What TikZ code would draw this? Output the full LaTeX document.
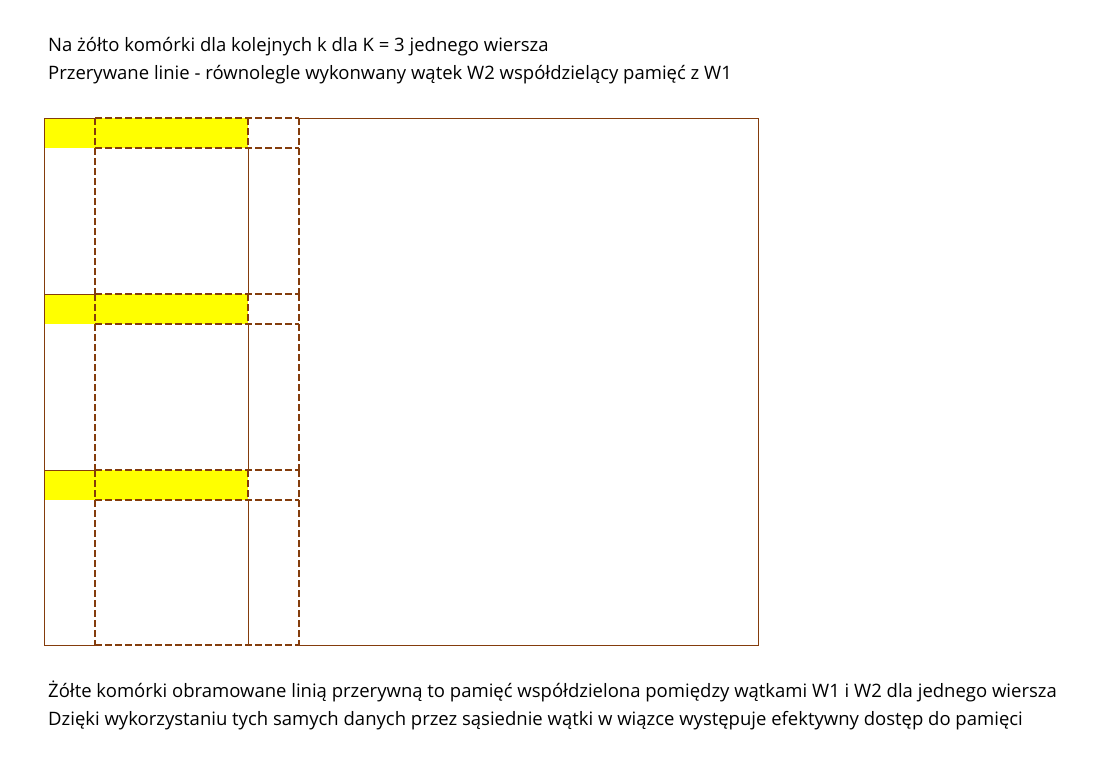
\documentclass[tikz,border=0pt]{standalone}
\usepackage{fontspec}
\setmainfont{Open Sans}
\definecolor{brzeg}{HTML}{843C0C}
\definecolor{zolty}{HTML}{FFFF00}
\tikzset{
  siatka/.style={draw=brzeg, line width=1pt},
  watek/.style={draw=brzeg, line width=2pt, dash pattern=on 7pt off 3pt},
  opis/.style={anchor=base west, inner sep=0pt, font=\fontsize{18.5}{22}\selectfont},
}
\begin{document}
\begin{tikzpicture}[x=1pt,y=-1pt]
\useasboundingbox (0,0) rectangle (1096,777);
\node[opis] (opis1) at (48,51) {Na żółto komórki dla kolejnych k dla K = 3 jednego wiersza};
\node[opis] (opis2) at (48,79) {Przerywane linie - równolegle wykonwany wątek W2 współdzielący pamięć z W1};
\foreach \y in {118,294,470}
  \fill[zolty] (44,\y) rectangle (248,\y+30);
% rama tablicy
\draw[siatka] (95,118) -- (44,118) -- (44,645) -- (95,645)
  (299,645) -- (758,645) -- (758,118) -- (299,118);
\foreach \y in {294,470}
  \draw[siatka] (44,\y) -- (95,\y);
\foreach \y/\z in {118/294,294/470,470/645} {
  \draw[siatka] (248,\y+30) -- (248,\z);
  \draw[watek] (95,\y) -- (95,\z);
  \draw[watek] (299,\y) -- (299,\z);
  \draw[watek] (95,\y) -- (299,\y);
  \draw[watek] (95,\y+30) -- (299,\y+30);
  \draw[watek] (248,\y) -- (248,\y+30);
}
\draw[watek] (95,645) -- (299,645);
\node[opis] (uwaga1) at (48,697) {Żółte komórki obramowane linią przerywną to pamięć współdzielona pomiędzy wątkami W1 i W2 dla jednego wiersza};
\node[opis] (uwaga2) at (48,725) {Dzięki wykorzystaniu tych samych danych przez sąsiednie wątki w wiązce występuje efektywny dostęp do pamięci};
\end{tikzpicture}
\end{document}
